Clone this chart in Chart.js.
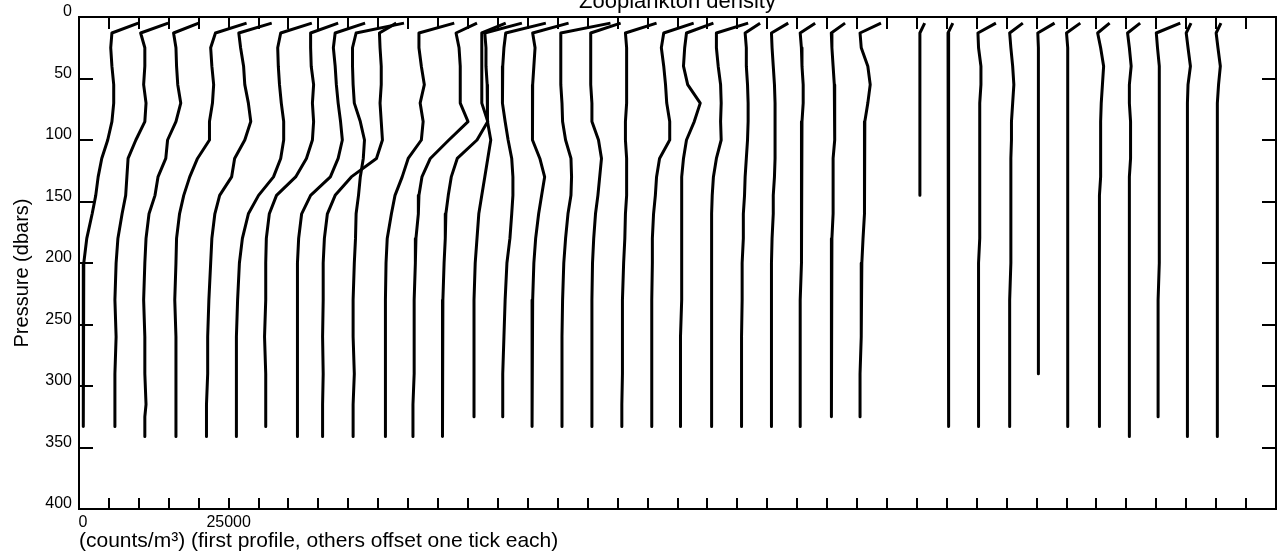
<!DOCTYPE html>
<html>
<head>
<meta charset="utf-8">
<script src="https://cdn.jsdelivr.net/npm/chart.js@4.4.1/dist/chart.umd.min.js"></script>
<style>
  html, body { margin: 0; padding: 0; background: #fff; }
  #wrap { width: 1280px; height: 558px; }
</style>
</head>
<body>
<div id="wrap"><canvas id="c" width="1280" height="558"></canvas></div>
<script>
// Pressure levels (dbars) at which each profile is read
const pressures = [5, 13, 25, 40, 55, 70, 85, 100, 115, 130, 145, 160, 180, 200, 230, 260, 290, 315, 325, 333, 341];

// Axis ticks
const xTickStep = 5000;            // one tick = offset between profiles
const xLabelValues = [0, 25000];   // only these x ticks are labelled
const yTickStep = 50;

// Zooplankton density profiles (counts/m^3), one array per station
const prof00 = [9900,5500,5300,5500,5800,5800,5500,4800,3800,3200,2800,2200,1300,800,700,800,700,700,700,700,null];
const prof01 = [9900,5300,6000,6000,5800,6200,6000,4500,3200,3000,2800,2200,1500,1200,1000,1200,1000,1000,1000,1000,null];
const prof02 = [10000,5800,6200,6300,6500,7000,6200,4800,4500,3200,2700,1700,1200,1000,800,1000,1000,1200,1000,1000,1000];
const prof03 = [13000,7800,7000,7200,7500,7300,6800,6800,4800,3500,2500,1800,1300,1200,1000,1200,1200,1200,1200,1200,1200];
const prof04 = [12200,6700,7000,7500,7700,8300,8700,7700,6000,5500,3500,2700,2200,2000,1700,1500,1500,1300,1300,1300,1300];
const prof05 = [13900,8700,8200,8300,8500,8800,9200,9200,8700,7500,5000,3300,2300,1800,1500,1300,1300,1300,1300,1300,1300];
const prof06 = [13300,8700,8700,8800,9200,9000,9200,9000,8000,6200,3000,1800,1300,1200,1200,1000,1200,1200,1200,1200,null];
const prof07 = [12800,7800,7500,7800,8000,8300,8700,9000,8300,7000,3700,2200,1700,1500,1500,1500,1500,1500,1500,1500,1500];
const prof08 = [13000,10200,10300,10500,10500,10300,10500,10700,9700,5500,2800,1500,1000,800,800,700,800,700,700,700,700];
const prof09 = [9300,1300,700,700,800,1000,2000,2700,2500,2000,1700,1300,1200,1000,800,800,1000,800,800,800,800];
const prof10 = [12700,6800,6800,7200,7700,7000,7500,7200,5000,4000,2800,2200,1500,1300,1200,1200,1200,1200,1200,1200,1200];
const prof11 = [11500,8000,8500,8700,8700,8700,10000,6800,3700,2300,1800,1700,1300,1200,1000,1000,1000,800,800,800,800];
const prof12 = [11300,7300,7300,7300,7300,7300,8300,6500,3200,2200,1700,1300,1200,1000,800,800,800,700,700,700,700];
const prof13 = [9000,2800,3000,3000,3200,3200,3300,3800,3300,2800,2300,1800,1500,1200,1000,1000,1000,1000,1000,null,null];
const prof14 = [8000,1300,1000,800,700,800,1200,1700,2300,2500,2500,2300,2000,1500,1200,1000,800,800,800,null,null];
const prof15 = [6800,800,1200,1000,800,800,700,800,2000,2800,2300,1800,1300,1000,800,700,700,700,700,700,null];
const prof16 = [8800,500,500,500,500,700,800,1300,2200,2300,2200,1700,1300,1000,800,700,700,700,700,700,null];
const prof17 = [5500,500,500,500,500,700,700,1800,2300,2000,1700,1300,1000,800,700,700,700,700,700,700,null];
const prof18 = [6500,1300,1500,1500,1500,1500,1300,1300,1500,1500,1500,1300,1200,1000,800,800,800,700,700,700,null];
const prof19 = [7700,2700,2300,2700,3000,3200,3700,3700,2000,1500,1300,1000,800,800,700,700,700,700,700,700,null];
const prof20 = [6000,1500,1200,1000,1700,3800,2800,1500,1000,700,700,700,700,700,700,500,500,500,500,500,null];
const prof21 = [6800,1500,1500,1800,2200,2300,2200,2300,1500,1000,800,700,700,700,700,700,700,700,700,700,null];
const prof22 = [3800,1300,1500,1500,1700,1800,1800,1700,1500,1300,1200,1000,1000,800,800,700,700,700,700,700,null];
const prof23 = [3500,700,800,1000,1200,1300,1300,1300,1300,1200,1000,1000,800,700,700,700,700,700,700,700,null];
const prof24 = [3000,500,700,800,1000,1000,800,800,700,700,700,700,700,700,500,500,500,500,500,500,null];
const prof25 = [3000,700,800,1000,1200,1300,1300,1200,1000,1000,1000,1000,800,800,700,700,700,700,700,null,null];
const prof26 = [4000,500,700,1800,2200,1800,1300,1300,1300,1200,1200,1200,1000,800,700,700,500,500,500,null,null];
const prof28 = [1300,500,500,500,500,500,500,500,500,500,500,null,null,null,null,null,null,null,null,null,null];
const prof29 = [1000,200,300,300,300,300,300,300,300,300,300,300,300,300,300,300,300,300,300,300,null];
const prof30 = [3200,200,300,700,700,500,500,500,500,500,500,500,500,300,300,300,300,300,300,300,null];
const prof31 = [2700,500,700,1000,1200,1000,800,800,700,700,700,700,700,700,500,500,500,500,500,500,null];
const prof32 = [3000,200,300,300,300,300,300,300,300,300,300,300,300,300,300,300,300,null,null,null,null];
const prof33 = [2300,0,200,200,200,200,200,200,200,200,200,200,200,200,200,200,200,200,200,200,null];
const prof34 = [2200,200,700,1200,1000,800,700,700,700,700,500,500,500,500,500,500,500,500,500,500,null];
const prof35 = [2300,200,500,800,500,500,700,700,700,500,500,500,500,500,500,500,500,500,500,500,500];
const prof36 = [4000,0,200,500,500,500,500,500,500,500,500,500,500,500,300,300,300,300,300,null,null];
const prof37 = [800,0,300,700,300,200,200,200,200,200,200,200,200,200,200,200,200,200,200,200,200];
const prof38 = [800,0,300,700,400,200,200,200,200,200,200,200,200,200,200,200,200,200,200,200,200];

// station index (= number of ticks the profile is offset) paired with its values
const stations = [
  [0, prof00], [1, prof01], [2, prof02], [3, prof03], [4, prof04], [5, prof05], [6, prof06],
  [7, prof07], [8, prof08], [9, prof09], [10, prof10], [11, prof11], [12, prof12], [13, prof13],
  [14, prof14], [15, prof15], [16, prof16], [17, prof17], [18, prof18], [19, prof19], [20, prof20],
  [21, prof21], [22, prof22], [23, prof23], [24, prof24], [25, prof25], [26, prof26],
  [28, prof28], [29, prof29], [30, prof30], [31, prof31], [32, prof32], [33, prof33],
  [34, prof34], [35, prof35], [36, prof36], [37, prof37], [38, prof38]
];

const datasets = stations.map(([idx, vals]) => ({
  label: 'Station ' + idx,
  data: pressures
    .map((p, j) => (vals[j] === null ? null : { x: vals[j] + idx * xTickStep, y: p }))
    .filter(pt => pt !== null),
  showLine: true,
  borderColor: '#000',
  borderWidth: 3,
  borderJoinStyle: 'round',
  pointRadius: 0,
  pointHoverRadius: 0,
  tension: 0,
  fill: false
}));

// inward tick marks on all four sides of the frame
const innerTicks = {
  id: 'innerTicks',
  afterDatasetsDraw(chart) {
    const { ctx, chartArea: a, scales } = chart;
    const x = scales.x, y = scales.y;
    ctx.save();
    ctx.strokeStyle = '#000';
    ctx.lineWidth = 2;
    ctx.beginPath();
    x.ticks.forEach(t => {
      const px = Math.round(x.getPixelForValue(t.value));
      ctx.moveTo(px, a.bottom); ctx.lineTo(px, a.bottom - 11);
      ctx.moveTo(px, a.top); ctx.lineTo(px, a.top + 12);
    });
    y.ticks.forEach(t => {
      const py = Math.round(y.getPixelForValue(t.value));
      ctx.moveTo(a.left, py); ctx.lineTo(a.left + 14, py);
      ctx.moveTo(a.right, py); ctx.lineTo(a.right - 14, py);
    });
    ctx.stroke();
    ctx.restore();
  }
};

const FONT = "'Liberation Sans', Arial, Helvetica, sans-serif";
const noGrid = { display: false, drawTicks: false, drawOnChartArea: false };

new Chart(document.getElementById('c'), {
  type: 'scatter',
  data: { datasets },
  plugins: [innerTicks],
  options: {
    responsive: false,
    animation: false,
    devicePixelRatio: 1,
    events: [],
    layout: { padding: { left: 0, right: 3, top: 0, bottom: 0 } },
    plugins: {
      legend: { display: false },
      tooltip: { enabled: false },
      title: {
        display: true,
        text: 'Zooplankton density',
        fullSize: false,
        color: '#000',
        font: { family: FONT, size: 22, weight: 'normal', lineHeight: 1.2 },
        padding: { top: -11, bottom: 1.6 }
      }
    },
    scales: {
      x: {
        type: 'linear',
        position: 'bottom',
        min: 0,
        max: 200000,
        afterFit: s => { s.height = 49; },
        grid: noGrid,
        border: { display: true, color: '#000', width: 2 },
        ticks: {
          stepSize: xTickStep,
          autoSkip: false,
          maxRotation: 0,
          padding: 4,
          color: '#000',
          font: { family: FONT, size: 16 },
          // the "0" label sits just right of the axis line, as in the original
          callback: v => (xLabelValues.includes(v) ? (v === 0 ? '\u2002' + v : String(v)) : '')
        },
        title: {
          display: true,
          text: '(counts/m³) (first profile, others offset one tick each)',
          align: 'start',
          color: '#000',
          font: { family: FONT, size: 21 },
          padding: { top: 0, bottom: 4 }
        }
      },
      xTop: {
        type: 'linear',
        position: 'top',
        min: 0,
        max: 200000,
        afterFit: s => { s.height = 0; },
        grid: noGrid,
        border: { display: true, color: '#000', width: 2 },
        ticks: { display: false }
      },
      y: {
        type: 'linear',
        position: 'left',
        reverse: true,
        min: 0,
        max: 400,
        afterFit: s => { s.width = 79; },
        grid: noGrid,
        border: { display: true, color: '#000', width: 2 },
        ticks: {
          stepSize: yTickStep,
          padding: 7,
          labelOffset: -5,
          color: '#000',
          font: { family: FONT, size: 16 }
        },
        title: {
          display: true,
          text: 'Pressure (dbars)\u2002\u2002',
          color: '#000',
          font: { family: FONT, size: 20 },
          padding: { top: 10, bottom: 0 }
        }
      },
      yRight: {
        type: 'linear',
        position: 'right',
        reverse: true,
        min: 0,
        max: 400,
        afterFit: s => { s.width = 0; },
        grid: noGrid,
        border: { display: true, color: '#000', width: 2 },
        ticks: { display: false }
      }
    }
  }
});
</script>
</body>
</html>
